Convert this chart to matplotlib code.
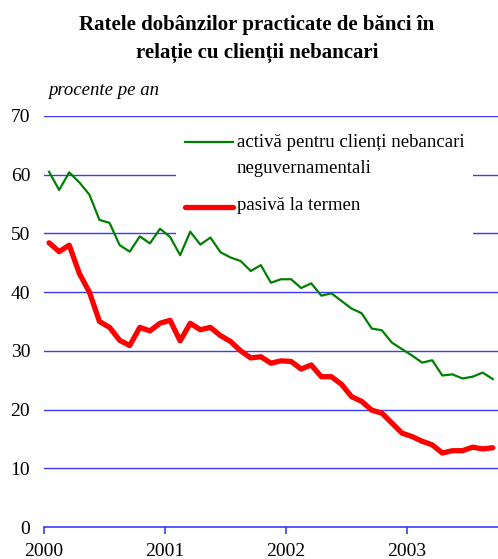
import numpy as np
import matplotlib
matplotlib.use("Agg")
import matplotlib.pyplot as plt
from matplotlib.patches import Rectangle

# monthly data, Jan 2000 - Sep 2003 (percent per year)
activa = [60.5, 57.4, 60.4, 58.7, 56.6, 52.3, 51.8, 48.0, 46.9, 49.5,
          48.3, 50.8, 49.4, 46.3, 50.3, 48.1, 49.3, 46.8, 45.9, 45.3,
          43.6, 44.6, 41.6, 42.2, 42.2, 40.7, 41.5, 39.4, 39.8, 38.5,
          37.2, 36.4, 33.8, 33.5, 31.4, 30.3, 29.2, 28.0, 28.4, 25.8,
          26.0, 25.3, 25.6, 26.3, 25.2]
pasiva = [48.4, 46.9, 48.0, 43.2, 40.0, 35.0, 34.0, 31.8, 30.9, 34.0,
          33.4, 34.7, 35.2, 31.7, 34.7, 33.6, 34.0, 32.6, 31.6, 30.0,
          28.8, 29.0, 27.9, 28.3, 28.2, 26.9, 27.6, 25.6, 25.6, 24.3,
          22.2, 21.4, 19.9, 19.4, 17.7, 16.0, 15.4, 14.6, 14.0, 12.6,
          13.0, 13.0, 13.6, 13.3, 13.5]
years = ["2000", "2001", "2002", "2003"]
yticks = [0, 10, 20, 30, 40, 50, 60, 70]

label_activa = ["activă pentru clienți nebancari", "neguvernamentali"]
label_pasiva = "pasivă la termen"

plt.rcParams["font.family"] = ["Liberation Serif", "DejaVu Serif"]
fig = plt.figure(figsize=(4.98, 5.59), dpi=100)
ax = fig.add_axes([0.0884, 0.0572, 0.9116, 0.7353])

months = np.arange(len(activa)) + 0.5
grid_blue = "#3a3aff"

ax.set_ylim(0, 70)
ax.set_xlim(0, 45.02)
ax.set_yticks(yticks)
ax.set_xticks(np.arange(len(years)) * 12)
ax.set_xticklabels(years)
for y in yticks[1:]:
    ax.axhline(y, color=grid_blue, lw=1.0, zorder=0.5)

for s in ["left", "right", "top"]:
    ax.spines[s].set_visible(False)
ax.spines["bottom"].set_color(grid_blue)
ax.spines["bottom"].set_linewidth(1.2)
ax.tick_params(axis="y", length=0, pad=10, labelsize=14)
ax.tick_params(axis="x", length=5, width=1.2, color=grid_blue, direction="out",
               pad=6.5, labelsize=14)

# white legend box hides the gridlines behind it
ax.add_patch(Rectangle((0.291, 0.70), 0.654, 0.28, transform=ax.transAxes,
                       facecolor="white", edgecolor="none", zorder=1))

ax.plot(months, activa, color="#008000", lw=1.6, solid_joinstyle="round", zorder=3)
ax.plot(months, pasiva, color="#ff0000", lw=3.8, solid_joinstyle="round",
        solid_capstyle="round", zorder=3)

ax.plot([0.3106, 0.4163], [0.9375, 0.9375], transform=ax.transAxes,
        color="#008000", lw=1.6, zorder=3)
ax.plot([0.3106, 0.4163], [0.7793, 0.7793], transform=ax.transAxes,
        color="#ff0000", lw=3.8, solid_capstyle="round", zorder=3)
ax.text(0.4251, 0.9246, label_activa[0], transform=ax.transAxes,
        fontsize=13.5, va="baseline", zorder=3)
ax.text(0.4251, 0.861, label_activa[1], transform=ax.transAxes,
        fontsize=13.5, va="baseline", zorder=3)
ax.text(0.4251, 0.7713, label_pasiva, transform=ax.transAxes,
        fontsize=13.5, va="baseline", zorder=3)

fig.text(257 / 498, 1 - 30 / 559, "Ratele dobânzilor practicate de bănci în",
         ha="center", va="baseline", fontsize=15, fontweight="bold")
fig.text(257 / 498, 1 - 58 / 559, "relație cu clienții nebancari",
         ha="center", va="baseline", fontsize=15, fontweight="bold")
fig.text(48 / 498, 1 - 95 / 559, "procente pe an", ha="left", va="baseline",
         fontsize=13.5, style="italic")

fig.savefig("out.png", dpi=100)
